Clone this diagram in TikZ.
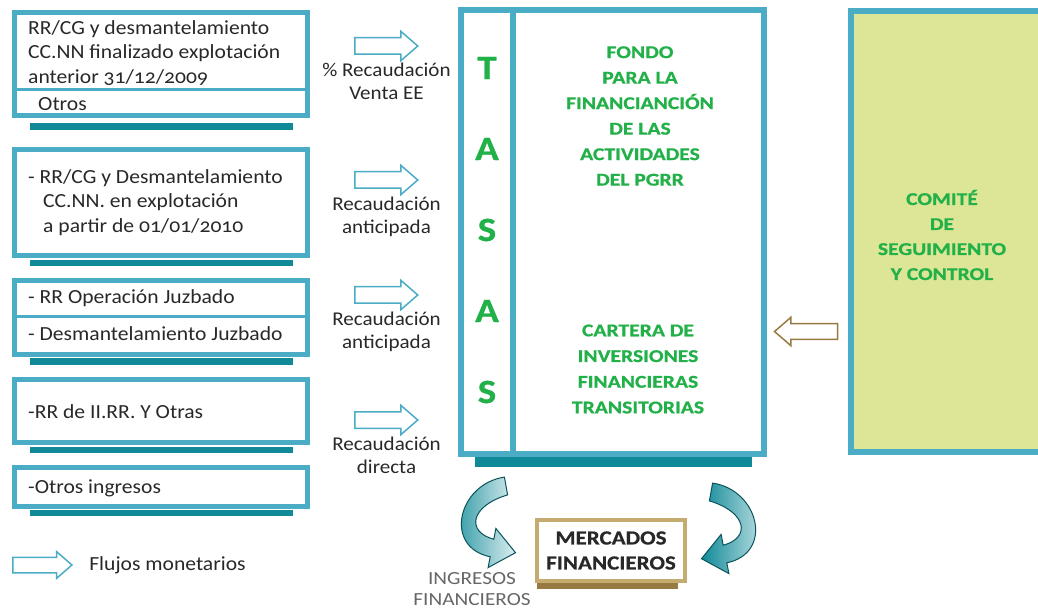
\documentclass[tikz,border=0pt]{standalone}
\usepackage{fontspec}
\setmainfont{Carlito}[Numbers=OldStyle,FakeStretch=1.08]
\usepackage{tikz}
\usetikzlibrary{shapes.arrows}
\usetikzlibrary{positioning}
\definecolor{PG-BLUE}{RGB}{75,172,198}
\definecolor{PG-TEAL}{RGB}{16,138,152}
\definecolor{PG-GREEN}{RGB}{34,176,72}
\definecolor{PG-LIME}{RGB}{221,229,150}
\definecolor{PG-TAN}{RGB}{196,172,112}
\definecolor{PG-BROWN}{RGB}{150,122,66}
\definecolor{PG-TEXT}{RGB}{40,40,40}

\begin{document}
\begin{tikzpicture}[x=1pt,y=-1pt,
	srcbox/.style={draw=PG-BLUE,line width=5pt,minimum width=293pt,inner sep=0pt},
	srctext/.style={anchor=west,align=left,inner sep=0pt,text=PG-TEXT,font=\fontsize{20}{24.5}\selectfont},
	divline/.style={draw=PG-BLUE,line width=3pt},
	flow/.style={single arrow,draw=PG-BLUE,line width=1.5pt,fill=white,minimum height=63pt,inner sep=0pt,inner ysep=7.5pt,single arrow head extend=6.5pt,single arrow tip angle=82},
	flowlabel/.style={align=center,inner sep=0pt,text=PG-TEXT,font=\fontsize{19.5}{22.5}\selectfont},
	greentext/.style={align=center,inner sep=0pt,text=PG-GREEN,font=\bfseries\addfontfeatures{FakeStretch=1.2,FakeBold=0.8}\fontsize{18}{25.5}\selectfont},
	shadowbar/.style={fill=PG-TEAL},
	bigarrow/.style={left color=PG-TEAL,right color=PG-TEAL!15,draw=PG-TEAL!60!black,line width=1pt}]
	\useasboundingbox (0,0) rectangle (1038,609);
	\clip (0,0) rectangle (1038,609);

	% draw source boxes
	\node (src_1) at (161,64) [srcbox,minimum height=103pt] {};
	\node (src_2) at (161,202.5) [srcbox,minimum height=106pt] {};
	\node (src_3) at (161,317.5) [srcbox,minimum height=74pt] {};
	\node (src_4) at (161,411) [srcbox,minimum height=63pt] {};
	\node (src_5) at (161,487) [srcbox,minimum height=39pt] {};
	\coordinate (div_1) at (0,90);
	\coordinate (div_3) at (0,317);
	\draw[divline] (src_1.west |- div_1) -- (src_1.east |- div_1);
	\draw[divline] (src_3.west |- div_3) -- (src_3.east |- div_3);
	\fill[shadowbar] (30,123) rectangle (293,130);
	\fill[shadowbar] (30,260) rectangle (293,266);
	\fill[shadowbar] (30,358) rectangle (293,365);
	\fill[shadowbar] (30,447) rectangle (293,453);
	\fill[shadowbar] (30,510) rectangle (293,516);

	% box texts
	\node (src_1_txt) at (28,53) [srctext] {RR/CG y desmantelamiento\\CC.NN finalizado explotación\\anterior 31/12/2009};
	\node (src_1_other) at (38,104) [srctext] {Otros};
	\node (src_2_txt) at (28,202.5) [srctext] {- RR/CG y Desmantelamiento\\\hspace*{15pt}CC.NN. en explotación\\\hspace*{15pt}a partir de 01/01/2010};
	\node (src_3_op) at (28,298) [srctext] {- RR Operación Juzbado};
	\node (src_3_dis) at (28,334) [srctext] {- Desmantelamiento Juzbado};
	\node (src_4_txt) at (28,412) [srctext] {-RR de II.RR. Y Otras};
	\node (src_5_txt) at (28,488) [srctext] {-Otros ingresos};

	% draw flow arrows
	\node (flow_1) at (381.5,46) [flow] {};
	\node (flow_2) at (381.5,180) [flow] {};
	\node (flow_3) at (381.5,295) [flow] {};
	\node (flow_4) at (381.5,420) [flow] {};
	\node [flowlabel,below=17pt of flow_1.center,xshift=5pt] {\% Recaudación\\Venta EE};
	\node [flowlabel,below=17pt of flow_2.center,xshift=5pt] {Recaudación\\anticipada};
	\node [flowlabel,below=17pt of flow_3.center,xshift=5pt] {Recaudación\\anticipada};
	\node [flowlabel,below=17pt of flow_4.center,xshift=5pt] {Recaudación\\directa};

	% legend
	\node (flow_key) at (38,565) [flow,minimum height=59pt,inner ysep=7pt,single arrow head extend=5.5pt] {};
	\node (key_txt) [srctext,right=16pt of flow_key] {Flujos monetarios};

	% fund box
	\node (fund) at (612.5,232) [draw=PG-BLUE,line width=6pt,minimum width=303pt,minimum height=444pt,inner sep=0pt] {};
	\coordinate (tasas_div) at (513,0);
	\draw[PG-BLUE,line width=6pt] (tasas_div |- fund.north) -- (tasas_div |- fund.south);
	\fill[shadowbar] (475,457) rectangle (752,467);
	\foreach \l [count=\i] in {T,A,S,A,S}
		\node (tasas_\i) at (487,{68+81*(\i-1)}) [text=PG-GREEN,font=\bfseries\addfontfeatures{FakeStretch=1.15,FakeBold=0.8}\fontsize{34}{34}\selectfont] {\l};
	\node (fund_txt) at (640,116) [greentext] {FONDO\\PARA LA\\FINANCIANCIÓN\\DE LAS\\ACTIVIDADES\\DEL PGRR};
	\node (cartera_txt) at (638,369) [greentext,font=\bfseries\addfontfeatures{FakeStretch=1.2,FakeBold=0.8}\fontsize{18}{25.7}\selectfont] {CARTERA DE\\INVERSIONES\\FINANCIERAS\\TRANSITORIAS};

	% committee
	\node (comite) at (960,231.5) [draw=PG-BLUE,fill=PG-LIME,line width=6pt,minimum width=218pt,minimum height=441pt,inner sep=0pt] {};
	\node (comite_txt) at (942,235) [greentext,font=\bfseries\addfontfeatures{FakeStretch=1.2,FakeBold=0.8}\fontsize{18}{25}\selectfont] {COMITÉ\\DE\\SEGUIMIENTO\\Y CONTROL};
	\node (control) at (810.5,331.5) [flow,draw=PG-BROWN,inner ysep=7pt,shape border rotate=180] {};

	% markets
	\node (mercados) at (611,550.5) [draw=PG-TAN,line width=4pt,fill=white,minimum width=148pt,minimum height=61pt,inner sep=0pt,align=center,text=PG-TEXT,font=\bfseries\addfontfeatures{FakeStretch=1.15,FakeBold=0.6}\fontsize{20}{25}\selectfont] {MERCADOS\\FINANCIEROS};
	\fill[PG-BROWN] (537,583) rectangle (678,589);
	\node (ingresos) at (472,589) [align=center,inner sep=0pt,text=black!60,font=\addfontfeatures{FakeStretch=1.15}\fontsize{18.5}{21}\selectfont] {INGRESOS\\FINANCIEROS};

	% curved arrows
	\draw[bigarrow] (504.4,477.1) .. controls (458,484) and (443,547) .. (490.2,556.8) -- (488.1,567.6) -- (515.5,552.7) -- (495.9,528.4) -- (493.8,539.2) .. controls (466,532) and (470,506) .. (507.6,494.9) -- cycle;
	\begin{scope}[shift={(1217,6)},xscale=-1]
		\draw[bigarrow] (504.4,477.1) .. controls (458,484) and (443,547) .. (490.2,556.8) -- (488.1,567.6) -- (515.5,552.7) -- (495.9,528.4) -- (493.8,539.2) .. controls (466,532) and (470,506) .. (507.6,494.9) -- cycle;
	\end{scope}
\end{tikzpicture}
\end{document}
